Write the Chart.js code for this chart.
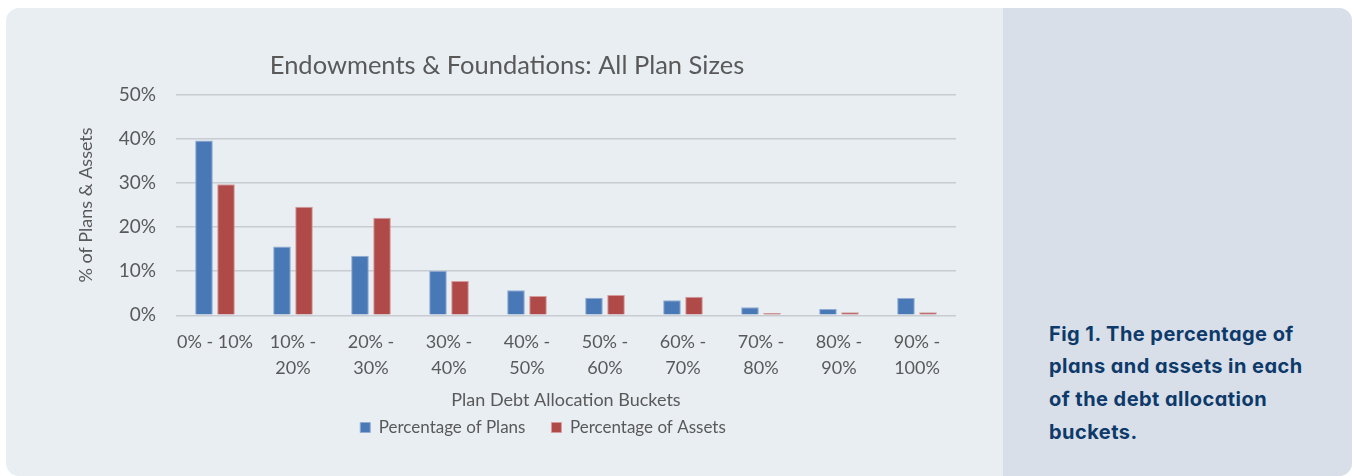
<!DOCTYPE html>
<html>
<head>
<meta charset="utf-8">
<script src="https://cdn.jsdelivr.net/npm/chart.js@4.4.0/dist/chart.umd.min.js"></script>
<style>
  html, body { margin:0; padding:0; width:1354px; height:476px; overflow:hidden; background:#ffffff; }
  #card { position:absolute; left:6px; top:8px; width:1346px; height:468px; border-radius:13px; background:#e9eef3; overflow:hidden; }
  #side { position:absolute; left:997px; top:0; width:349px; height:468px; background:#d8dfe8; }
  #side p { position:absolute; left:46px; top:309.5px; margin:0; width:258px; font-family:Inter, "Noto Sans", sans-serif; font-weight:700; font-size:20px; line-height:32.7px; color:#0d3a6a; font-feature-settings:"cv11"; letter-spacing:0.45px; }
  #cv { position:absolute; left:0; top:0; }
</style>
</head>
<body>
<div id="card">
  <canvas id="cv" width="997" height="468"></canvas>
  <div id="side"><p>Fig 1. The percentage of plans and assets in each of the debt allocation buckets.</p></div>
</div>
<script>
const categories = ['0% - 10%', ['10% -', '20%'], ['20% -', '30%'], ['30% -', '40%'], ['40% -', '50%'], ['50% -', '60%'], ['60% -', '70%'], ['70% -', '80%'], ['80% -', '90%'], ['90% -', '100%']];
const percentageOfPlans = [39.6, 15.6, 13.5, 10.1, 5.7, 4.0, 3.4, 1.8, 1.4, 3.9];
const percentageOfAssets = [29.7, 24.6, 22.1, 7.8, 4.4, 4.6, 4.2, 0.5, 0.7, 0.7];
const seriesNames = ['Percentage of Plans', 'Percentage of Assets'];
const yTickValues = [0, 10, 20, 30, 40, 50];
const chartTitle = 'Endowments & Foundations: All Plan Sizes';
const yAxisTitle = '% of Plans & Assets';
const xAxisTitle = 'Plan Debt Allocation Buckets';

const FONT = 'Lato, "Liberation Sans", sans-serif';
const TXT = '#595959';

const legendShift = {
  id: 'legendShift',
  afterLayout(chart) {
    const lg = chart.legend;
    lg.left += 36; lg.right += 36;
    lg.top -= 15.2; lg.bottom -= 15.2;
  }
};

new Chart(document.getElementById('cv'), {
  type: 'bar',
  data: {
    labels: categories,
    datasets: [
      { label: seriesNames[0], data: percentageOfPlans, backgroundColor: '#4878b5', borderColor: '#92acd2', borderWidth: 1 },
      { label: seriesNames[1], data: percentageOfAssets, backgroundColor: '#af4a48', borderColor: '#d59c9b', borderWidth: 1 }
    ]
  },
  options: {
    responsive: false,
    animation: false,
    categoryPercentage: 0.565,
    barPercentage: 0.8,
    layout: { padding: { left: 52, right: 47, top: 0, bottom: 14.8 } },
    plugins: {
      tooltip: { enabled: false },
      title: {
        display: true, text: chartTitle, color: TXT,
        font: { family: FONT, size: 25.5, weight: 'normal', lineHeight: 1.2 },
        padding: { top: 42.7, bottom: 13.4 }
      },
      legend: {
        display: true, position: 'bottom',
        labels: {
          color: TXT, boxWidth: 10, boxHeight: 10, padding: 26,
          font: { family: FONT, size: 17 }
        }
      }
    },
    scales: {
      x: {
        afterFit(scale) { scale.height = 92.9; },
        grid: { display: false },
        border: { display: false },
        ticks: { color: TXT, padding: 5.5, maxRotation: 0, autoSkip: false, font: { family: FONT, size: 18, lineHeight: 1.444 } },
        title: { display: true, text: xAxisTitle, color: TXT, font: { family: FONT, size: 18, lineHeight: 1.2 }, padding: { top: 0, bottom: -3 } }
      },
      y: {
        min: 0, max: 50,
        afterFit(scale) { scale.width = 118; },
        afterBuildTicks(scale) { scale.ticks = yTickValues.map(v => ({ value: v })); },
        grid: { color: '#c8ccd2', lineWidth: 1.5, drawTicks: false },
        border: { display: false },
        ticks: { color: TXT, padding: 20, font: { family: FONT, size: 19 }, callback: v => v + '%' },
        title: { display: true, text: yAxisTitle, color: TXT, font: { family: FONT, size: 18, lineHeight: 1.2 }, padding: { top: 17.5, bottom: 0 } }
      }
    }
  },
  plugins: [legendShift]
});
</script>
</body>
</html>
